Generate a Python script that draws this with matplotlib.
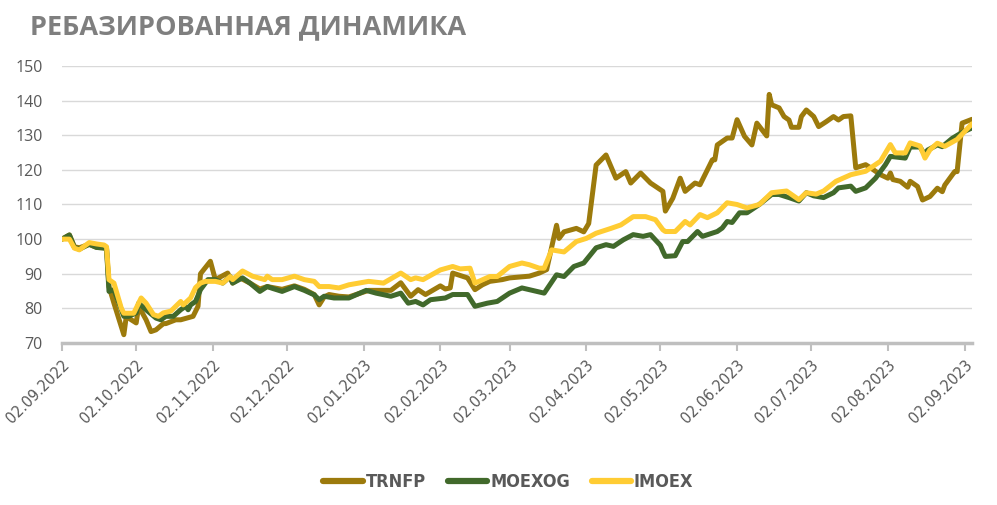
import matplotlib
matplotlib.use("Agg")
import matplotlib.pyplot as plt
import matplotlib.dates as mdates
import pandas as pd
import numpy as np

start = pd.Timestamp("2022-09-02")

trnfp_day = [0, 3, 5, 7, 11, 14, 18, 19, 21, 25, 26, 28, 30, 31, 34, 36, 38, 41, 42, 46, 48, 53, 55, 56, 60, 61, 62, 67, 69, 72, 76, 80, 83, 89, 94, 98, 102, 104, 106, 108, 112, 116, 124, 133, 137, 141, 144, 147, 153, 155, 157, 158, 164, 167, 170, 173, 178, 181, 189, 193, 196, 200, 201, 203, 208, 211, 213, 216, 220, 224, 228, 230, 234, 238, 243, 244, 247, 250, 252, 256, 258, 260, 263, 264, 265, 269, 271, 273, 276, 279, 281, 285, 286, 287, 290, 292, 294, 295, 298, 299, 301, 304, 306, 309, 312, 314, 316, 319, 321, 325, 327, 331, 334, 335, 336, 339, 342, 343, 346, 348, 351, 354, 356, 357, 361, 362, 364, 368]
trnfp_val = [100, 101.2, 97.8, 97.5, 98.5, 97.6, 97.5, 86.3, 81.5, 72.4, 77.7, 76.7, 75.8, 80.6, 76.7, 73.3, 73.8, 75.6, 75.6, 76.7, 76.7, 77.7, 80.6, 90, 93.6, 91, 88.3, 90.2, 87.3, 88.8, 87.3, 85.6, 86.3, 85.5, 86.5, 85.5, 84, 81, 83.3, 84, 83.5, 83.3, 85.2, 85.2, 87.4, 83.5, 85.4, 84, 86.5, 85.6, 85.9, 90.2, 88.8, 85.4, 86.8, 87.8, 88.3, 88.8, 89.3, 90.2, 91.2, 104.0, 100.2, 102.1, 103.1, 102.1, 104.5, 121.4, 124.3, 117.6, 119.5, 116.2, 119.1, 116.2, 113.8, 108.1, 111.8, 117.6, 113.8, 116.2, 115.7, 118.6, 122.9, 122.9, 127.2, 129.2, 129.2, 134.5, 129.7, 127.2, 133.5, 129.8, 141.8, 138.8, 137.9, 135.4, 134.4, 132.3, 132.3, 135.4, 137.3, 135.4, 132.5, 133.9, 135.4, 134.4, 135.4, 135.6, 120.6, 121.5, 120.6, 118.6, 117.6, 119.1, 117.2, 116.7, 115, 116.7, 115.2, 111.3, 112.3, 114.7, 113.7, 115.6, 119.5, 119.5, 133.5, 134.6]

moexog_day = [0, 3, 5, 7, 11, 14, 17, 18, 19, 21, 25, 27, 30, 31, 34, 38, 40, 42, 45, 48, 50, 51, 52, 54, 56, 59, 62, 65, 68, 69, 73, 76, 80, 83, 85, 89, 94, 98, 102, 104, 106, 110, 116, 123, 127, 133, 137, 140, 143, 146, 149, 155, 158, 164, 167, 172, 176, 181, 186, 189, 195, 200, 203, 207, 211, 216, 220, 223, 227, 231, 235, 238, 242, 243, 244, 248, 251, 253, 257, 259, 265, 267, 269, 271, 274, 277, 282, 287, 290, 294, 298, 301, 304, 308, 312, 314, 319, 321, 325, 329, 333, 335, 341, 343, 347, 349, 350, 354, 356, 360, 364, 368]
moexog_val = [100, 101.2, 97.6, 97.1, 98.5, 97.6, 97.4, 97.1, 84.9, 85.4, 77.7, 77.7, 78.7, 81.5, 79.6, 77.2, 76.7, 77.7, 77.7, 79.6, 80.6, 79.6, 81, 82, 85.4, 88.3, 88.3, 87.3, 89.2, 87.3, 88.8, 87.3, 84.9, 86.3, 85.8, 84.9, 86.3, 85.2, 83.9, 82.5, 83.5, 83, 83, 85.2, 84.4, 83.5, 84.4, 81.5, 82, 81, 82.5, 83, 84, 84, 80.6, 81.5, 82, 84.4, 85.9, 85.4, 84.4, 89.7, 89.2, 92.1, 93.1, 97.5, 98.4, 97.9, 99.8, 101.3, 100.8, 101.3, 98.2, 96.5, 95, 95.2, 99.3, 99.3, 102.2, 100.8, 102.2, 103.2, 105.1, 104.8, 107.6, 107.6, 110, 112.9, 112.9, 112, 111, 113.4, 112.5, 112, 113.4, 114.8, 115.3, 113.8, 114.8, 117.6, 121.5, 123.9, 123.4, 126.6, 126.6, 124.3, 125.7, 127.2, 126.7, 129.1, 130.8, 132.1]

imoex_day = [0, 3, 5, 7, 11, 14, 17, 18, 19, 21, 24, 25, 29, 32, 34, 37, 39, 41, 44, 48, 49, 52, 54, 56, 58, 62, 65, 68, 69, 73, 77, 82, 83, 85, 89, 94, 98, 102, 104, 108, 112, 116, 124, 130, 137, 141, 143, 146, 153, 158, 161, 165, 167, 173, 176, 181, 186, 189, 193, 195, 198, 203, 208, 212, 216, 222, 226, 231, 236, 240, 243, 244, 248, 252, 254, 258, 261, 265, 269, 273, 277, 282, 287, 293, 298, 301, 305, 308, 313, 319, 325, 331, 335, 337, 341, 343, 347, 349, 351, 354, 357, 362, 368]
imoex_val = [100, 100, 97.4, 96.9, 99, 98.6, 98.3, 97.8, 88.3, 87.3, 80, 78.6, 78.6, 83, 81.5, 78.2, 77.7, 78.7, 79.2, 82, 81, 83, 86, 87.3, 87.8, 87.8, 87.3, 89.2, 88.3, 90.8, 89.3, 88.3, 89.3, 88.3, 88.3, 89.3, 88.3, 87.8, 86.3, 86.3, 85.9, 86.8, 87.8, 87.3, 90.2, 88.3, 88.8, 88.3, 91.1, 92.1, 91.4, 91.6, 87.3, 89.2, 89.2, 92.1, 93.1, 92.6, 91.6, 91.6, 96.9, 96.3, 99.3, 100.2, 101.7, 103.1, 104.1, 106.5, 106.5, 105.6, 102.7, 102.2, 102.2, 105.1, 104.1, 107.1, 106.2, 107.6, 110.5, 110, 109, 110, 113.4, 113.9, 111.4, 113.4, 113, 113.9, 116.7, 118.6, 119.6, 122.5, 127.3, 124.9, 124.9, 127.8, 126.9, 123.4, 125.8, 127.7, 126.8, 128.8, 133.3]

series_names = ["TRNFP", "MOEXOG", "IMOEX"]
series_colors = ["#9C7A0C", "#41692B", "#FFCC33"]
y_ticks = [70, 80, 90, 100, 110, 120, 130, 140, 150]
x_tick_labels = ["02.09.2022", "02.10.2022", "02.11.2022", "02.12.2022", "02.01.2023",
                 "02.02.2023", "02.03.2023", "02.04.2023", "02.05.2023", "02.06.2023",
                 "02.07.2023", "02.08.2023", "02.09.2023"]

def to_dates(days):
    return [start + pd.Timedelta(days=d) for d in days]

fig = plt.figure(figsize=(9.97, 5.05), dpi=100)
ax = fig.add_axes([0.0622, 0.3208, 0.9127, 0.5485])

data = [(trnfp_day, trnfp_val), (moexog_day, moexog_val), (imoex_day, imoex_val)]
for (d, v), name, col in zip(data, series_names, series_colors):
    ax.plot(to_dates(d), v, color=col, lw=3.6, label=name, solid_joinstyle="round", solid_capstyle="round")

ax.set_ylim(70, 150)
ax.set_yticks(y_ticks)
ax.set_xlim(start, start + pd.Timedelta(days=368))
tick_dates = [pd.Timestamp(pd.to_datetime(t, format="%d.%m.%Y")) for t in x_tick_labels]
ax.set_xticks(tick_dates)
ax.set_xticklabels(x_tick_labels, rotation=45, ha="right", va="top", rotation_mode="anchor",
                   fontsize=11.5, color="#595959", family="DejaVu Sans", fontstretch="condensed")
for lab in ax.get_yticklabels():
    lab.set_fontsize(11.5)
    lab.set_color("#595959")
    lab.set_family(["Open Sans", "DejaVu Sans"])

ax.grid(axis="y", color="#D9D9D9", lw=1)
ax.set_axisbelow(True)
for s in ["left", "right", "top"]:
    ax.spines[s].set_visible(False)
ax.spines["bottom"].set_color("#BFBFBF")
ax.spines["bottom"].set_linewidth(2.5)
ax.tick_params(axis="x", length=6, width=1.5, color="#BFBFBF", pad=4)
ax.tick_params(axis="y", length=0, pad=14)

fig.text(0.030, 0.947, "РЕБАЗИРОВАННАЯ ДИНАМИКА", fontsize=19.5, fontweight="bold",
         color="#7F7F7F", family=["Open Sans", "DejaVu Sans"], va="center", ha="left")

leg = fig.legend(loc="center", bbox_to_anchor=(0.51, 0.045), ncol=3, frameon=False,
                 handlelength=2.2, handletextpad=0.15, columnspacing=1.2,
                 prop={"family": "DejaVu Sans", "stretch": "condensed", "weight": "bold", "size": 13})
for t in leg.get_texts():
    t.set_color("#595959")
for h in leg.get_lines():
    h.set_linewidth(4.5)

fig.savefig("out.png", dpi=100)
